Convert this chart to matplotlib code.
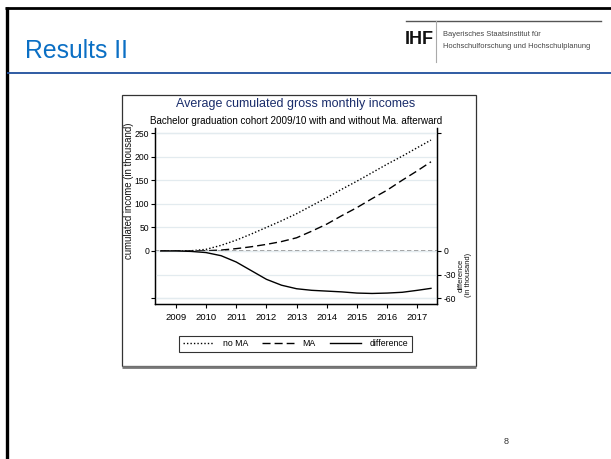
import matplotlib
matplotlib.use("Agg")
import matplotlib.pyplot as plt
from matplotlib.patches import Rectangle

plt.rcParams['font.family'] = ['Liberation Sans', 'DejaVu Sans']

# ---- data (thousand EUR, cumulated) ----
years = [2008.5, 2009.0, 2009.5, 2010.0, 2010.5, 2011.0, 2011.5, 2012.0, 2012.5,
         2013.0, 2013.5, 2014.0, 2014.5, 2015.0, 2015.5, 2016.0, 2016.5, 2017.0, 2017.45]
no_ma = [0, 0, 0.5, 3.5, 12, 23, 36, 50, 64, 79, 96, 113, 131, 148, 166, 184, 201, 219, 235]
ma = [0, 0, 0, 0.5, 2, 5, 9, 14, 20, 28, 42, 57, 75, 92, 111, 129, 150, 170, 189]
difference = [0, 0, -0.5, -2, -6, -14, -25, -36, -43.5, -48, -50, -51, -52, -53.5, -54,
              -53.5, -52.5, -50, -47.5]

x_ticks = [2009, 2010, 2011, 2012, 2013, 2014, 2015, 2016, 2017]
left_ticks = [-100, 0, 50, 100, 150, 200, 250]
left_labels = ['', '0', '50', '100', '150', '200', '250']
right_ticks = [-60, -30, 0, 150]
right_labels = ['-60', '-30', '0', '']

W, H = 611, 459
fig = plt.figure(figsize=(W / 100, H / 100), dpi=100)
fig.patch.set_facecolor('white')

# ---- slide background layer in pixel coordinates ----
bg = fig.add_axes([0, 0, 1, 1], zorder=0)
bg.set_xlim(0, W)
bg.set_ylim(H, 0)
bg.axis('off')

bg.plot([5, W], [8, 8], color='black', lw=2.0, solid_capstyle='butt')
bg.plot([6.5, 6.5], [7, H], color='black', lw=2.4, solid_capstyle='butt')
bg.plot([7, W], [73, 73], color='#1f4e9c', lw=1.3, solid_capstyle='butt')
bg.text(25, 51, 'Results II', color='#0b6fc4', fontsize=17.8, ha='left', va='center')

# institute logo
bg.plot([406, 601], [21, 21], color='#555555', lw=1.0)
bg.plot([435.5, 435.5], [21, 62], color='#aaaaaa', lw=0.8)
bg.text(405, 40, 'IHF', fontsize=13, fontweight='bold', color='#111111', ha='left', va='center')
bg.text(443, 35, 'Bayerisches Staatsinstitut für', fontsize=5.4, color='#444444',
        ha='left', va='center')
bg.text(443, 46, 'Hochschulforschung und Hochschulplanung', fontsize=5.4, color='#444444',
        ha='left', va='center')
bg.text(506, 441, '8', fontsize=6.5, color='#333333', ha='center', va='center')

# chart frame
bg.add_patch(Rectangle((122, 95), 354, 271, fill=False, edgecolor='#333333', lw=0.9))
bg.plot([122, 476], [366.5, 366.5], color='#777777', lw=2.0, solid_capstyle='butt')

bg.text(296, 104, 'Average cumulated gross monthly incomes', fontsize=9, color='#1a2d6b',
        ha='center', va='center')
bg.text(296, 121, 'Bachelor graduation cohort 2009/10 with and without Ma. afterward',
        fontsize=7.1, color='black', ha='center', va='center')
bg.text(128.5, 191, 'cumulated income (in thousand)', fontsize=6.9, rotation=90,
        ha='center', va='center', color='#111111')
bg.text(465, 275, 'difference\n(in thousand)', fontsize=5.4, rotation=90,
        ha='center', va='center', color='#111111', linespacing=1.0)

# ---- plot area ----
left_px, right_px, top_px, bottom_px = 155, 437, 128, 304
ax = fig.add_axes([left_px / W, 1 - bottom_px / H,
                   (right_px - left_px) / W, (bottom_px - top_px) / H], zorder=2)
ax.patch.set_alpha(0)
ax2 = ax.twinx()

ax.set_xlim(2008.31, 2017.65)
ax.set_ylim(-112.3, 260.6)
ax2.set_ylim(-67.4, 156.4)

grid_col = '#e3ebef'
for a in (ax, ax2):
    a.spines['top'].set_visible(False)
    for s in ('left', 'right', 'bottom'):
        a.spines[s].set_linewidth(0.9)
        a.spines[s].set_color('black')

ax.set_yticks(left_ticks)
ax.set_yticklabels(left_labels)
ax2.set_yticks(right_ticks)
ax2.set_yticklabels(right_labels)
ax.set_xticks(x_ticks)
ax.set_xticklabels([str(y) for y in x_ticks])

ax.tick_params(axis='both', direction='out', length=3.2, width=0.8, labelsize=6.8,
               pad=1.2, colors='black')
ax.tick_params(axis='x', pad=3)
ax.tick_params(axis='y', labelsize=6.2, pad=1.0)
ax2.tick_params(axis='y', direction='out', length=3.2, width=0.8, labelsize=6.2,
                pad=1.5, colors='black')

ax.yaxis.grid(True, color=grid_col, lw=0.9)
ax.set_axisbelow(True)
ax2.yaxis.grid(True, color=grid_col, lw=0.9)
ax2.set_axisbelow(True)

ax.axhline(0, color='#8c8c8c', lw=1.2, linestyle=(0, (2.6, 1.6)), zorder=1)
l1, = ax.plot(years, no_ma, color='black', lw=1.0, linestyle=(0, (1, 1.5)), zorder=3)
l2, = ax.plot(years, ma, color='black', lw=1.0, linestyle=(0, (5.8, 2.9)), zorder=3)
l3, = ax2.plot(years, difference, color='black', lw=1.0, zorder=3)

leg = fig.legend([l1, l2, l3], ['no MA', 'MA', 'difference'], ncol=3,
                 loc='center', bbox_to_anchor=(295.5 / W, 1 - 344 / H),
                 fontsize=6.3, frameon=True, fancybox=False, handlelength=3.6,
                 handletextpad=1.0, columnspacing=1.6, borderpad=0.45,
                 borderaxespad=0)
leg.get_frame().set_edgecolor('black')
leg.get_frame().set_linewidth(0.8)

fig.savefig('out.png', dpi=100, facecolor='white')
